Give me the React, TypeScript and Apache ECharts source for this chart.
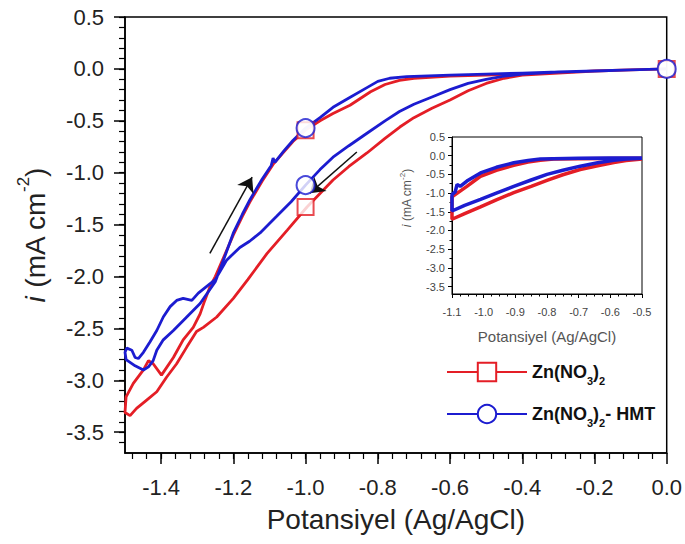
import React, { useEffect, useRef } from 'react';
import * as echarts from 'echarts';

const FONT = '"Liberation Sans", Arial, sans-serif';
const RED = '#e41e26';
const BLUE = '#1c1cd0';

const seriesNames = ['Zn(NO3)2', 'Zn(NO3)2- HMT'];

// Main plot, Zn(NO3)2 (forward scan then return scan)
const redPotential = [
  0.0, -0.1, -0.2, -0.3, -0.4, -0.45, -0.5, -0.55, -0.6, -0.65, -0.7, -0.739, -0.78, -0.83, -0.88, -0.924,
  -0.96, -0.996, -1.05, -1.107, -1.16, -1.2, -1.246, -1.283, -1.302, -1.329, -1.357, -1.385, -1.412, -1.44,
  -1.468, -1.486, -1.5,
  -1.497, -1.477, -1.449, -1.435, -1.422, -1.399, -1.366, -1.339, -1.311, -1.292, -1.279, -1.265, -1.25,
  -1.225, -1.2, -1.175, -1.154, -1.12, -1.09, -1.06, -1.035, -1.0, -0.96, -0.924, -0.877, -0.82, -0.78,
  -0.74, -0.7, -0.6, -0.5, -0.4, -0.3, -0.2, -0.1, 0.0,
];
const redCurrent = [
  0.0, -0.01, -0.02, -0.04, -0.06, -0.09, -0.14, -0.21, -0.3, -0.38, -0.47, -0.56, -0.67, -0.81, -0.94, -1.07,
  -1.2, -1.33, -1.55, -1.78, -2.03, -2.21, -2.39, -2.49, -2.53, -2.68, -2.84, -2.97, -3.11, -3.19,
  -3.27, -3.34, -3.31,
  -3.16, -3.03, -2.9, -2.81, -2.84, -2.95, -2.78, -2.61, -2.49, -2.36, -2.23, -2.1, -2.0,
  -1.8, -1.6, -1.42, -1.28, -1.08, -0.92, -0.8, -0.7, -0.59, -0.5, -0.43, -0.35, -0.22, -0.15,
  -0.11, -0.09, -0.07, -0.06, -0.05, -0.04, -0.02, -0.01, 0.0,
];

// Main plot, Zn(NO3)2- HMT
const bluePotential = [
  0.0, -0.1, -0.2, -0.3, -0.4, -0.45, -0.5, -0.55, -0.6, -0.65, -0.7, -0.74, -0.78, -0.83, -0.88, -0.924,
  -0.96, -1.0, -1.04, -1.08, -1.126, -1.155, -1.182, -1.218, -1.25, -1.265, -1.297, -1.315, -1.339, -1.357,
  -1.375, -1.394, -1.412, -1.431, -1.449, -1.463, -1.472, -1.481, -1.495, -1.5,
  -1.497, -1.472, -1.449, -1.435, -1.422, -1.412, -1.394, -1.366, -1.329, -1.292, -1.25, -1.225, -1.2,
  -1.175, -1.154, -1.12, -1.095, -1.09, -1.085, -1.06, -1.035, -1.0, -0.96, -0.924, -0.88, -0.83, -0.8,
  -0.767, -0.72, -0.6, -0.5, -0.4, -0.3, -0.2, -0.1, 0.0,
];
const blueCurrent = [
  0.0, -0.01, -0.02, -0.03, -0.05, -0.07, -0.1, -0.14, -0.2, -0.27, -0.34, -0.41, -0.5, -0.62, -0.74, -0.85,
  -0.97, -1.12, -1.28, -1.42, -1.58, -1.66, -1.72, -1.84, -2.03, -2.07, -2.16, -2.23, -2.21, -2.23,
  -2.29, -2.39, -2.52, -2.63, -2.73, -2.79, -2.78, -2.71, -2.69, -2.73,
  -2.8, -2.86, -2.9, -2.87, -2.81, -2.71, -2.61, -2.52, -2.39, -2.26, -2.05, -1.82, -1.58,
  -1.4, -1.26, -1.06, -0.93, -0.86, -0.9, -0.79, -0.69, -0.57, -0.47, -0.37, -0.28, -0.18, -0.12,
  -0.09, -0.075, -0.06, -0.05, -0.04, -0.03, -0.02, -0.01, 0.0,
];

// Markers on the main curves
const redMarkerPotential = [-1.0, -1.0, 0.0];
const redMarkerCurrent = [-0.59, -1.33, 0.0];
const blueMarkerPotential = [-1.0, -1.0, 0.0];
const blueMarkerCurrent = [-0.57, -1.12, 0.0];

// Inset scans (-0.5 .. -1.1 V)
const insetRedPotential = [
  -0.5, -0.55, -0.589, -0.64, -0.695, -0.75, -0.8, -0.85, -0.905, -0.96, -1.01, -1.06, -1.1,
  -1.1, -1.053, -1.01, -0.96, -0.905, -0.86, -0.821, -0.779, -0.7, -0.6, -0.5,
];
const insetRedCurrent = [
  -0.09, -0.13, -0.18, -0.27, -0.37, -0.51, -0.66, -0.82, -0.99, -1.18, -1.37, -1.55, -1.7,
  -1.1, -0.82, -0.55, -0.39, -0.26, -0.17, -0.12, -0.09, -0.08, -0.075, -0.07,
];
const insetBluePotential = [
  -0.5, -0.55, -0.589, -0.64, -0.695, -0.75, -0.8, -0.85, -0.905, -0.96, -1.01, -1.06, -1.1,
  -1.1, -1.09, -1.084, -1.074, -1.053, -1.01, -0.96, -0.905, -0.86, -0.821, -0.78, -0.7, -0.6, -0.5,
];
const insetBlueCurrent = [
  -0.07, -0.09, -0.12, -0.19, -0.28, -0.39, -0.5, -0.65, -0.82, -1.0, -1.17, -1.33, -1.48,
  -1.04, -0.97, -0.77, -0.82, -0.68, -0.46, -0.31, -0.19, -0.13, -0.09, -0.08, -0.07, -0.065, -0.06,
];

// Direction arrows (potential, current)
const arrowUp = [[-1.265, -1.776], [-1.148, -1.043]];
const arrowDown = [[-0.858, -0.8], [-0.988, -1.197]];

// Ticks
const xTicks = [-1.4, -1.2, -1.0, -0.8, -0.6, -0.4, -0.2, 0.0];
const yTicks = [0.5, 0.0, -0.5, -1.0, -1.5, -2.0, -2.5, -3.0, -3.5];
const xMinorTicks = Array.from({ length: 37 }, (_, k) => +(-(k + 1) * 0.04).toFixed(2));
const yMinorTicks = Array.from({ length: 42 }, (_, k) => +(0.5 - k * 0.1).toFixed(2));
const insetYMinorTicks = Array.from({ length: 17 }, (_, k) => +(0.5 - k * 0.25).toFixed(2));

const zip = (xs: number[], ys: number[]) => xs.map((x, i) => [x, ys[i]]);
const fmt = (v: number) => Number(v).toFixed(1);

const legendText: Record<string, string> = {
  'Zn(NO3)2': 'Zn(NO{sub|3}){sub|2}',
  'Zn(NO3)2- HMT': 'Zn(NO{sub|3}){sub|2}- HMT',
};

export default function App() {
  const ref = useRef<HTMLDivElement>(null);
  useEffect(() => {
    if (!ref.current) return;
    const chart = echarts.init(ref.current, null, { renderer: 'svg' });
    const axisLine = { show: true, onZero: false, lineStyle: { color: '#000', width: 1.5 } };
    const option: any = {
      animation: false,
      backgroundColor: '#fff',
      textStyle: { fontFamily: FONT },
      grid: [
        { left: 125, top: 17, width: 542, height: 436, show: true, borderColor: '#000', borderWidth: 1.5, backgroundColor: 'transparent' },
        { left: 452, top: 137, width: 190, height: 157, show: true, borderColor: '#000', borderWidth: 1, backgroundColor: '#fff' },
      ],
      legend: {
        orient: 'vertical',
        left: 441,
        top: 353,
        itemWidth: 80,
        itemHeight: 23,
        itemGap: 14,
        selectedMode: false,
        data: seriesNames,
        formatter: (name: string) => legendText[name] || name,
        textStyle: {
          fontFamily: FONT, fontSize: 18, fontWeight: 'bold', color: '#111', lineHeight: 28,
          rich: { sub: { fontFamily: FONT, fontSize: 11, fontWeight: 'bold', color: '#111', lineHeight: 10, verticalAlign: 'bottom' } },
        },
      },
      xAxis: [
        {
          type: 'value', gridIndex: 0, position: 'bottom', min: -1.5, max: 0,
          axisLine,
          axisTick: { show: true, customValues: xTicks, length: 11, lineStyle: { color: '#000', width: 1.5 } },
          axisLabel: { customValues: xTicks, formatter: fmt, fontSize: 22, color: '#222', margin: 23, fontFamily: FONT },
          splitLine: { show: false },
          name: 'Potansiyel (Ag/AgCl)', nameLocation: 'middle', nameGap: 52,
          nameTextStyle: { fontSize: 28, color: '#222', fontFamily: FONT },
        },
        {
          type: 'value', gridIndex: 0, position: 'bottom', min: -1.5, max: 0,
          axisLine: { show: false, onZero: false },
          axisTick: { show: true, customValues: xMinorTicks, length: 6, lineStyle: { color: '#000', width: 1.2 } },
          axisLabel: { show: false }, splitLine: { show: false },
        },
        {
          type: 'value', gridIndex: 1, position: 'bottom', min: -1.1, max: -0.5, interval: 0.1,
          axisLine: { show: true, onZero: false, lineStyle: { color: '#000', width: 1 } },
          axisTick: { show: true, length: 4, lineStyle: { color: '#000' } },
          minorTick: { show: true, splitNumber: 4, length: 2.5, lineStyle: { color: '#000' } },
          axisLabel: { formatter: fmt, fontSize: 11, color: '#444', margin: 12, fontFamily: FONT },
          splitLine: { show: false }, minorSplitLine: { show: false },
          name: 'Potansiyel (Ag/AgCl)', nameLocation: 'middle', nameGap: 35,
          nameTextStyle: { fontSize: 15, color: '#555', fontFamily: FONT },
        },
      ],
      yAxis: [
        {
          type: 'value', gridIndex: 0, position: 'left', min: -3.7, max: 0.5,
          axisLine,
          axisTick: { show: true, customValues: yTicks, length: 11, lineStyle: { color: '#000', width: 1.5 } },
          axisLabel: { customValues: yTicks, formatter: fmt, fontSize: 22, color: '#222', margin: 21, fontFamily: FONT },
          splitLine: { show: false },
          name: '{i|i} (mA cm{sup|-2})', nameLocation: 'middle', nameGap: 68, nameRotate: 90,
          nameTextStyle: {
            fontSize: 28, color: '#222', fontFamily: FONT, lineHeight: 40,
            rich: {
              i: { fontSize: 28, fontStyle: 'italic', color: '#222', fontFamily: FONT, lineHeight: 40 },
              sup: { fontSize: 17, color: '#222', fontFamily: FONT, lineHeight: 14, verticalAlign: 'top' },
            },
          },
        },
        {
          type: 'value', gridIndex: 0, position: 'left', min: -3.7, max: 0.5,
          axisLine: { show: false, onZero: false },
          axisTick: { show: true, customValues: yMinorTicks, length: 6, lineStyle: { color: '#000', width: 1.2 } },
          axisLabel: { show: false }, splitLine: { show: false },
        },
        {
          type: 'value', gridIndex: 1, position: 'left', min: -3.7, max: 0.5,
          axisLine: { show: true, onZero: false, lineStyle: { color: '#000', width: 1 } },
          axisTick: { show: true, customValues: yTicks, length: 4, lineStyle: { color: '#000' } },
          axisLabel: { customValues: yTicks, formatter: fmt, fontSize: 11, color: '#444', margin: 7, fontFamily: FONT },
          splitLine: { show: false },
        },
        {
          type: 'value', gridIndex: 1, position: 'left', min: -3.7, max: 0.5,
          axisLine: { show: false, onZero: false },
          axisTick: { show: true, customValues: insetYMinorTicks, length: 2.5, lineStyle: { color: '#000' } },
          axisLabel: { show: false }, splitLine: { show: false },
        },
      ],
      graphic: [
        {
          type: 'text', x: 407, y: 198, rotation: Math.PI / 2,
          style: {
            text: '{i|i} (mA cm{sup|-2})', fill: '#555', fontSize: 12, fontFamily: FONT,
            align: 'center', verticalAlign: 'middle', lineHeight: 18,
            rich: {
              i: { fontSize: 12, fontStyle: 'italic', fill: '#555', fontFamily: FONT, lineHeight: 18 },
              sup: { fontSize: 8, fill: '#555', fontFamily: FONT, lineHeight: 7, verticalAlign: 'top' },
            },
          },
        },
      ],
      series: [
        {
          name: seriesNames[0], type: 'line', xAxisIndex: 0, yAxisIndex: 0, data: zip(redPotential, redCurrent),
          symbol: 'emptyRect', showSymbol: false, lineStyle: { color: RED, width: 2.8 },
          itemStyle: { color: RED, borderWidth: 2 }, z: 2,
        },
        {
          name: seriesNames[1], type: 'line', xAxisIndex: 0, yAxisIndex: 0, data: zip(bluePotential, blueCurrent),
          symbol: 'emptyCircle', showSymbol: false, lineStyle: { color: BLUE, width: 2.8 },
          itemStyle: { color: BLUE, borderWidth: 2 }, z: 3,
        },
        {
          name: 'redMarkers', type: 'scatter', xAxisIndex: 0, yAxisIndex: 0, data: zip(redMarkerPotential, redMarkerCurrent),
          symbol: 'emptyRect', symbolSize: 16, itemStyle: { color: RED, borderColor: RED, borderWidth: 2 }, z: 4,
        },
        {
          name: 'blueMarkers', type: 'scatter', xAxisIndex: 0, yAxisIndex: 0, data: zip(blueMarkerPotential, blueMarkerCurrent),
          symbol: 'emptyCircle', symbolSize: 18, itemStyle: { color: BLUE, borderColor: BLUE, borderWidth: 2 }, z: 5,
        },
        {
          name: 'insetRed', type: 'line', xAxisIndex: 2, yAxisIndex: 2, data: zip(insetRedPotential, insetRedCurrent),
          symbol: 'none', lineStyle: { color: RED, width: 3.5 }, z: 6,
        },
        {
          name: 'insetBlue', type: 'line', xAxisIndex: 2, yAxisIndex: 2, data: zip(insetBluePotential, insetBlueCurrent),
          symbol: 'none', lineStyle: { color: BLUE, width: 3.5 }, z: 7,
        },
        {
          name: 'arrows', type: 'line', xAxisIndex: 0, yAxisIndex: 0, data: [], z: 8,
          markLine: {
            silent: true, animation: false, symbol: ['none', 'arrow'], symbolSize: 14,
            label: { show: false },
            lineStyle: { color: '#111', width: 1.5, type: 'solid' },
            data: [
              [{ coord: arrowUp[0] }, { coord: arrowUp[1] }],
              [{ coord: arrowDown[0] }, { coord: arrowDown[1] }],
            ],
          },
        },
      ],
    };
    chart.setOption(option);
    return () => chart.dispose();
  }, []);
  return <div ref={ref} style={{ position: 'fixed', left: 0, top: 0, width: 685, height: 544, background: '#fff' }} />;
}
